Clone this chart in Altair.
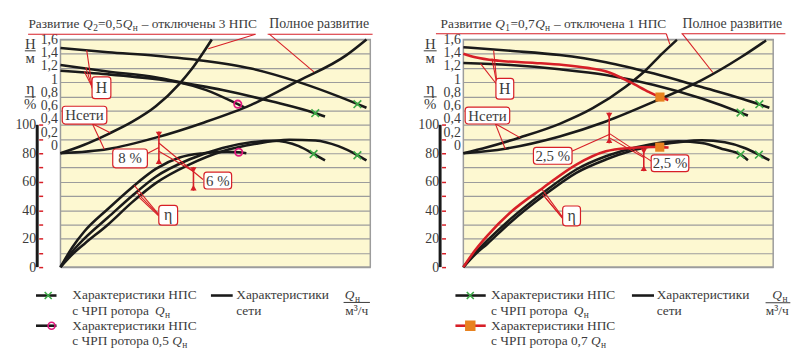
import altair as alt
import pandas as pd

# ------------------------------------------------------------------ data
# Left panel: development Q2 = 0.5 Qн (3 pump stations off)
L_A_Q = [0, 0.2, 0.4, 0.6, 0.8, 1.0, 1.166, 1.284]
L_A_H = [1.48, 1.42, 1.37, 1.30, 1.19, 1.00, 0.80, 0.64]
L_B_Q = [0, 0.197, 0.404, 0.5, 0.68, 0.889, 1.069, 1.11]
L_B_H = [1.24, 1.15, 1.065, 1.0, 0.888, 0.726, 0.563, 0.516]
L_P_Q = [0, 0.197, 0.404, 0.5, 0.612, 0.744, 0.771]
L_P_H = [1.16, 1.11, 1.04, 0.995, 0.888, 0.69, 0.647]
L_N1_Q = [0, 0.1, 0.2, 0.3, 0.4, 0.5, 0.55, 0.6, 0.635]
L_N1_H = [0, 0.12, 0.27, 0.44, 0.66, 0.98, 1.18, 1.42, 1.6]
L_N2_Q = [0, 0.2, 0.4, 0.6, 0.8, 1.0, 1.2, 1.284]
L_N2_H = [0, 0.06, 0.22, 0.43, 0.68, 1.02, 1.38, 1.6]
L_EP_Q = [0, 0.05, 0.1, 0.2, 0.3, 0.4, 0.5, 0.6, 0.7, 0.748, 0.78]
L_EP = [0, 14, 25, 41, 56, 69, 77, 80, 81, 80.7, 80]
L_E2_Q = [0, 0.05, 0.1, 0.2, 0.3, 0.4, 0.54, 0.68, 0.8, 0.89, 1.0, 1.062, 1.11]
L_E2 = [0, 11, 20, 35, 50, 63.5, 75.6, 83.7, 87.7, 88.8, 85, 79.5, 75]
L_E3_Q = [0, 0.05, 0.1, 0.2, 0.3, 0.4, 0.54, 0.68, 0.82, 0.96, 1.07, 1.166, 1.247, 1.284]
L_E3 = [0, 9, 16.3, 30, 45.5, 59, 72, 81.4, 86.7, 89.5, 89, 85, 78.6, 75]
L_XH_Q = [1.246, 1.069]
L_XH = [0.69, 0.563]
L_XE_Q = [1.062, 1.246]
L_XE = [79.5, 78.6]
L_OH_Q = [0.744]
L_OH = [0.69]
L_OE_Q = [0.748]
L_OE = [80.7]

# Right panel: development Q1 = 0.7 Qн (1 pump station off)
R_A_Q = [0, 0.197, 0.404, 0.598, 0.8, 1.0, 1.166, 1.284]
R_A_H = [1.49, 1.44, 1.38, 1.28, 1.12, 0.93, 0.77, 0.64]
R_B_Q = [0, 0.197, 0.404, 0.598, 0.8, 1.0, 1.163, 1.194]
R_B_H = [1.27, 1.24, 1.18, 1.10, 0.96, 0.77, 0.572, 0.53]
R_R_Q = [0, 0.05, 0.15, 0.3, 0.42, 0.52, 0.6, 0.7, 0.78, 0.825, 0.86]
R_R_H = [1.40, 1.35, 1.30, 1.27, 1.24, 1.20, 1.15, 1.00, 0.86, 0.79, 0.75]
R_N1_Q = [0, 0.1, 0.238, 0.404, 0.543, 0.681, 0.765, 0.834, 0.896]
R_N1_H = [0, 0.085, 0.223, 0.414, 0.633, 0.935, 1.167, 1.4, 1.595]
R_N2_Q = [0, 0.176, 0.404, 0.598, 0.8, 1.0, 1.166, 1.27]
R_N2_H = [0, 0.065, 0.237, 0.447, 0.726, 1.028, 1.353, 1.586]
R_ER_Q = [0, 0.05, 0.1, 0.197, 0.335, 0.474, 0.598, 0.698, 0.8, 0.824, 0.861]
R_ER = [0, 12, 22, 38.4, 55.8, 72.1, 81.4, 83.7, 84.4, 84.3, 84]
R_E2_Q = [0, 0.05, 0.1, 0.197, 0.335, 0.474, 0.598, 0.698, 0.8, 0.903, 1.0, 1.097, 1.163, 1.194]
R_E2 = [0, 10, 18.6, 33.7, 52.3, 68.6, 77.9, 83, 86.7, 88.4, 87.2, 82.6, 79, 75.1]
R_E3_Q = [0, 0.05, 0.1, 0.197, 0.335, 0.474, 0.598, 0.698, 0.8, 0.903, 1.0, 1.097, 1.18, 1.24, 1.284]
R_E3 = [0, 9, 16.3, 31.4, 50, 66.3, 75.6, 81.4, 85.3, 87.7, 89.1, 87.7, 83.7, 79, 75.1]
R_XH_Q = [1.242, 1.163]
R_XH = [0.69, 0.572]
R_XE_Q = [1.163, 1.24]
R_XE = [79, 79]
R_SH_Q = [0.825]
R_SH = [0.79]
R_SE_Q = [0.824]
R_SE = [84.3]

X_TICKS = [round(i * 0.1, 1) for i in range(14)]
Y_GRID = list(range(0, 161, 10))
ETA_TICKS = list(range(0, 101, 10))
H_TICKS = [0, 0.2, 0.4, 0.6, 0.8, 1.0, 1.2, 1.4, 1.6]

# ------------------------------------------------------------------ style
W, HT = 313, 230
QMAX, EMAX = 1.3, 160
H_LABEL_STEP = 46.51   # η-units per 1 m of head on the printed (compressed) H scale
RED = "#d71f27"
BLACK = "#1a1a1a"
GRID = "#9c9c9c"
TEXT = "#3b3b3b"
BG = "#fdf8d1"
GREEN = "#3daa48"
PINK = "#e0187c"
ORANGE = "#e8821f"
FONT = "Liberation Serif"
FS = 13.5
SUB = 9.5
XPATH = "M-1,-1L1,1M-1,1L1,-1"
DUMMY = pd.DataFrame({"d": [0]})


def ptext(s, x, y, size=FS, style="normal", align="left", color=TEXT):
    return alt.Chart(DUMMY).mark_text(
        text=s, align=align, baseline="middle", font=FONT, fontSize=size,
        fontStyle=style, color=color).encode(x=alt.value(x), y=alt.value(y))


def prule(x1, y1, x2, y2, color=RED, width=1.1):
    return alt.Chart(DUMMY).mark_rule(color=color, strokeWidth=width).encode(
        x=alt.value(x1), y=alt.value(y1), x2=alt.value(x2), y2=alt.value(y2))


def ppoint(x, y, shape, size, color, filled, sw=1.6):
    kw = dict(shape=shape, size=size, opacity=1, strokeWidth=sw)
    if filled:
        kw.update(filled=True, fill=color, stroke=color)
    else:
        kw.update(filled=False, stroke=color)
    return alt.Chart(DUMMY).mark_point(**kw).encode(x=alt.value(x), y=alt.value(y))


def build_panel(P):
    xs = alt.Scale(domain=[0, QMAX], nice=False, zero=False)
    ys = alt.Scale(domain=[0, EMAX], nice=False, zero=False)

    def X(f):
        return alt.X(f"{f}:Q", scale=xs, axis=None)

    def Y(f):
        return alt.Y(f"{f}:Q", scale=ys, axis=None)

    layers = []
    grid = alt.Chart(pd.DataFrame({"Q": [0, QMAX], "e": [0, EMAX]})).mark_point(opacity=0).encode(
        x=alt.X("Q:Q", scale=xs, title=None, axis=alt.Axis(
            values=X_TICKS, grid=True, gridColor=GRID, gridWidth=1.2, ticks=False, domain=False,
            labelExpr="round(datum.value*10) % 2 == 0 && datum.value < 1.25 ? replace(format(datum.value, '.1~f'), '.', ',') : ''",
            labelPadding=3, labelFontSize=15, labelOverlap=False)),
        y=alt.Y("e:Q", scale=ys, title=None, axis=alt.Axis(
            values=Y_GRID, grid=True, gridColor=GRID, gridWidth=1.2, ticks=False, domain=False,
            labels=False, orient="left")))
    layers.append(grid)
    eta_axis = alt.Chart(pd.DataFrame({"e": ETA_TICKS, "q0": 0.0})).mark_point(opacity=0).encode(
        x=X("q0"),
        y=alt.Y("e:Q", scale=ys, title=None, axis=alt.Axis(
            values=ETA_TICKS, orient="left", offset=18, grid=False, domain=False, ticks=True,
            tickColor=RED, tickSize=4, tickWidth=1.5, labelOverlap=False,
            labelExpr="datum.value % 20 == 0 ? datum.value : ''", labelPadding=3, labelFontSize=14)))
    layers.append(eta_axis)
    h_pos = [EMAX - H_LABEL_STEP * (1.6 - h) for h in H_TICKS]
    h_axis = alt.Chart(pd.DataFrame({"e": h_pos, "q0": 0.0})).mark_point(opacity=0).encode(
        x=X("q0"),
        y=alt.Y("e:Q", scale=ys, title=None, axis=alt.Axis(
            values=h_pos, orient="left", offset=0, grid=False, domain=False, ticks=False,
            labelPadding=3, labelFontSize=14, labelOverlap=False,
            labelExpr=f"replace(format((datum.value - {EMAX}) / {H_LABEL_STEP} + 1.6, '.1~f'), '.', ',')")))
    layers.append(h_axis)
    layers.append(alt.Chart(pd.DataFrame({"a": [0], "b": [100], "q0": [0.0]})).mark_rule(
        color=BLACK, strokeWidth=3, xOffset=-23.5).encode(x=X("q0"), y=Y("a"), y2=alt.Y2("b")))

    # curves
    rows = []
    for cid, (qs, vs, kind, col) in enumerate(P["curves"]):
        for q, v in zip(qs, vs):
            rows.append(dict(curve=cid, Q=q, v=v, kind=kind, col=col))
    cdf = pd.DataFrame(rows)
    for col in [BLACK, RED]:
        sub = cdf[cdf.col == col]
        if len(sub):
            layers.append(alt.Chart(sub).transform_calculate(
                yy="datum.kind == 'H' ? 80 + 50 * datum.v : datum.v").mark_line(
                strokeWidth=2.6, interpolate="monotone", color=col).encode(
                x=X("Q"), y=Y("yy"), detail="curve:N", order="Q:Q"))

    # annotation lines (data coordinates)
    adf = pd.DataFrame(P["ann"], columns=["Q1", "e1", "Q2", "e2"])
    layers.append(alt.Chart(adf).mark_rule(color=RED, strokeWidth=1.1).encode(
        x=X("Q1"), y=Y("e1"), x2=alt.X2("Q2"), y2=alt.Y2("e2")))
    # dimension markers
    mdf = pd.DataFrame(P["dims"], columns=["Q", "lo", "hi"])
    layers.append(alt.Chart(mdf).mark_rule(color=RED, strokeWidth=1.6).encode(
        x=X("Q"), y=Y("lo"), y2=alt.Y2("hi")))
    layers.append(alt.Chart(mdf).mark_point(shape="triangle-down", filled=True, fill=RED,
                                            size=40, opacity=1, yOffset=3).encode(x=X("Q"), y=Y("hi")))
    layers.append(alt.Chart(mdf).mark_point(shape="triangle-up", filled=True, fill=RED,
                                            size=40, opacity=1, yOffset=-3).encode(x=X("Q"), y=Y("lo")))

    # curve markers
    for qs, vs, kind, mk in P["markers"]:
        d = pd.DataFrame({"Q": qs, "v": vs, "kind": kind})
        if mk == "x":
            m = alt.Chart(d).mark_point(shape=XPATH, size=60, filled=False, stroke=GREEN, strokeWidth=1.6, opacity=1)
        elif mk == "o":
            m = alt.Chart(d).mark_point(shape="circle", size=55, filled=False, stroke=PINK, strokeWidth=1.8, opacity=1)
        else:
            m = alt.Chart(d).mark_point(shape="square", size=85, filled=True, fill=ORANGE, opacity=1)
        layers.append(m.transform_calculate(
            yy="datum.kind == 'H' ? 80 + 50 * datum.v : datum.v").encode(x=X("Q"), y=Y("yy")))

    # label boxes
    for q, e, w, h, s, fs in P["boxes"]:
        d = pd.DataFrame({"Q": [q], "e": [e]})
        layers.append(alt.Chart(d).mark_rect(
            fill="white", stroke=RED, strokeWidth=1.2, cornerRadius=3,
            xOffset=-w / 2, x2Offset=w / 2, yOffset=-h / 2, y2Offset=h / 2).encode(
            x=X("Q"), x2=alt.X2("Q"), y=Y("e"), y2=alt.Y2("e")))
        layers.append(alt.Chart(d).mark_text(text=s, font=FONT, fontSize=fs, color=TEXT,
                                             align="center", baseline="middle").encode(x=X("Q"), y=Y("e")))

    # pixel-positioned decorations (titles, legend)
    for r in P["prules"]:
        layers.append(prule(*r))
    for t in P["ptexts"]:
        layers.append(ptext(*t))
    for p in P["ppoints"]:
        layers.append(ppoint(*p))

    return alt.layer(*layers).resolve_axis(y="independent").properties(width=W, height=HT)


LEFT = dict(
    curves=[(L_A_Q, L_A_H, "H", BLACK), (L_B_Q, L_B_H, "H", BLACK), (L_P_Q, L_P_H, "H", BLACK),
            (L_N1_Q, L_N1_H, "H", BLACK), (L_N2_Q, L_N2_H, "H", BLACK),
            (L_EP_Q, L_EP, "E", BLACK), (L_E2_Q, L_E2, "E", BLACK), (L_E3_Q, L_E3, "E", BLACK)],
    markers=[(L_XH_Q, L_XH, "H", "x"), (L_XE_Q, L_XE, "E", "x"),
             (L_OH_Q, L_OH, "H", "o"), (L_OE_Q, L_OE, "E", "o")],
    ann=[(0.134, 125.3, 0.11, 152.5), (0.134, 125.8, 0.106, 140.5), (0.134, 126.3, 0.10, 137.5),
         (0.134, 100.7, 0.209, 94.5), (0.134, 100.7, 0.184, 82.8),
         (0.364, 79.8, 0.413, 84.0), (0.413, 87.2, 0.598, 61.6), (0.413, 81.4, 0.557, 67.4),
         (0.412, 37.0, 0.31, 57.5), (0.412, 36.5, 0.32, 52.5), (0.412, 36.0, 0.33, 49.0)],
    dims=[(0.413, 72.3, 95.3), (0.558, 53.7, 70.4)],
    boxes=[(0.172, 126, 19, 22, "H", 16), (0.101, 106.8, 45, 18, "Hсети", 15),
           (0.292, 76.4, 35, 19, "8 %", 15), (0.66, 60.8, 28, 17, "6 %", 15),
           (0.452, 36.4, 19, 20, "η", 16)],
    prules=[(-32.7, -5.3, 197, -5.3), (197, -5.3, 149.3, 9.4),
            (209.3, -5.3, 315.3, -5.3), (211, -5.3, 256, 32.7),
            (-36, 11.5, -25, 11.5, TEXT, 1), (-36, 58, -25, 58, TEXT, 1),
            (-24.7, 258.7, -4, 258.7, BLACK, 2.6), (-24.7, 289.2, -4, 289.2, BLACK, 2.6),
            (152, 258.7, 174, 258.7, BLACK, 2.6), (286, 265.7, 312.6, 265.7, TEXT, 1)],
    ptexts=[("Развитие", -32.4, -16), ("Q", 22.8, -16, FS, "italic"), ("2", 33, -12, SUB),
            ("=0,5", 38, -16), ("Q", 63, -16, FS, "italic"), ("н", 73, -12, SUB),
            ("– отключены 3 НПС", 82, -16), ("Полное развитие", 211, -16, 14),
            ("H", -30.5, 4.5, 15, "normal", "center"), ("м", -30.5, 19, 15, "normal", "center"),
            ("η", -30.5, 50.5, 16, "normal", "center"), ("%", -30.5, 65.5, 15, "normal", "center"),
            ("Характеристики НПС", 12, 258.7), ("с ЧРП ротора", 12, 274.2),
            ("Q", 95.5, 274.2, FS, "italic"), ("н", 105.5, 278.2, SUB),
            ("Характеристики НПС", 12, 289.2), ("с ЧРП ротора 0,5", 12, 304.7),
            ("Q", 113, 304.7, FS, "italic"), ("н", 123, 308.7, SUB),
            ("Характеристики", 177.6, 258.7), ("сети", 177.6, 274.2),
            ("Q", 292, 258.7, FS, "italic", "center"), ("н", 297.5, 262.7, SUB),
            ("м³/ч", 299.3, 274.7, FS, "normal", "center")],
    ppoints=[(-12.4, 258.7, XPATH, 50, GREEN, False), (-9, 289.2, "circle", 50, PINK, False)],
)

RIGHT = dict(
    curves=[(R_A_Q, R_A_H, "H", BLACK), (R_B_Q, R_B_H, "H", BLACK),
            (R_N1_Q, R_N1_H, "H", BLACK), (R_N2_Q, R_N2_H, "H", BLACK),
            (R_E2_Q, R_E2, "E", BLACK), (R_E3_Q, R_E3, "E", BLACK),
            (R_R_Q, R_R_H, "H", RED), (R_ER_Q, R_ER, "E", RED)],
    markers=[(R_XH_Q, R_XH, "H", "x"), (R_XE_Q, R_XE, "E", "x"),
             (R_SH_Q, R_SH, "H", "s"), (R_SE_Q, R_SE, "E", "s")],
    ann=[(0.142, 127.0, 0.127, 152.3), (0.142, 127.5, 0.12, 146.5), (0.142, 128.0, 0.072, 143.0),
         (0.134, 100.8, 0.238, 91.0), (0.134, 100.8, 0.176, 83.0),
         (0.455, 81.4, 0.612, 93.2), (0.612, 94.0, 0.79, 74.3), (0.612, 91.0, 0.757, 77.0),
         (0.417, 35.0, 0.329, 55.0), (0.417, 34.5, 0.333, 51.0), (0.417, 34.0, 0.346, 48.5)],
    dims=[(0.612, 87.0, 108.6), (0.757, 67.4, 83.5)],
    boxes=[(0.174, 125.3, 18, 21, "H", 16), (0.101, 106.5, 45, 17, "Hсети", 15),
           (0.375, 78.2, 39, 17, "2,5 %", 15), (0.867, 73.0, 38, 17, "2,5 %", 15),
           (0.454, 36.0, 18, 20, "η", 16)],
    prules=[(-27.7, -5.7, 205, -5.7), (205, -5.7, 208.6, 5),
            (220.3, -5.7, 325.3, -5.7), (221.3, -5.7, 252, 33.4),
            (-40, 11.5, -27, 11.5, TEXT, 1), (-40, 58, -27, 58, TEXT, 1),
            (-8, 258.7, 22.6, 258.7, BLACK, 2.6), (-8, 289.2, 22.6, 289.2, RED, 2.6),
            (170.3, 258.7, 192.6, 258.7, BLACK, 2.6), (305.3, 266, 330.3, 266, TEXT, 1)],
    ptexts=[("Развитие", -23, -16), ("Q", 32.2, -16, FS, "italic"), ("1", 42.4, -12, SUB),
            ("=0,7", 47.6, -16), ("Q", 72.6, -16, FS, "italic"), ("н", 82.6, -12, SUB),
            ("– отключена 1 НПС", 91.5, -16), ("Полное развитие", 221.3, -16, 14),
            ("H", -33.4, 4.5, 15, "normal", "center"), ("м", -33.4, 19, 15, "normal", "center"),
            ("η", -33.4, 50.5, 16, "normal", "center"), ("%", -33.4, 65.5, 15, "normal", "center"),
            ("Характеристики НПС", 28, 258.7), ("с ЧРП ротора", 28, 274.2),
            ("Q", 111.5, 274.2, FS, "italic"), ("н", 121.5, 278.2, SUB),
            ("Характеристики НПС", 28, 289.2), ("с ЧРП ротора 0,7", 28, 304.7),
            ("Q", 129, 304.7, FS, "italic"), ("н", 139, 308.7, SUB),
            ("Характеристики", 195.3, 258.7), ("сети", 195.3, 274.2),
            ("Q", 317, 258.7, FS, "italic", "center"), ("н", 322.5, 262.7, SUB),
            ("м³/ч", 317, 274.7, FS, "normal", "center")],
    ppoints=[(7, 258.7, XPATH, 50, GREEN, False), (7, 289.2, "square", 80, ORANGE, True)],
)

chart = alt.hconcat(build_panel(LEFT), build_panel(RIGHT), spacing=43).properties(
    padding={"left": 6, "top": 6, "right": 0, "bottom": 0},
    background="white",
).configure_view(fill=BG, stroke=GRID, strokeWidth=1.5).configure_axis(
    labelFont=FONT, labelColor=TEXT)

chart.save("out.html", embed_options={"renderer": "svg", "actions": False})
